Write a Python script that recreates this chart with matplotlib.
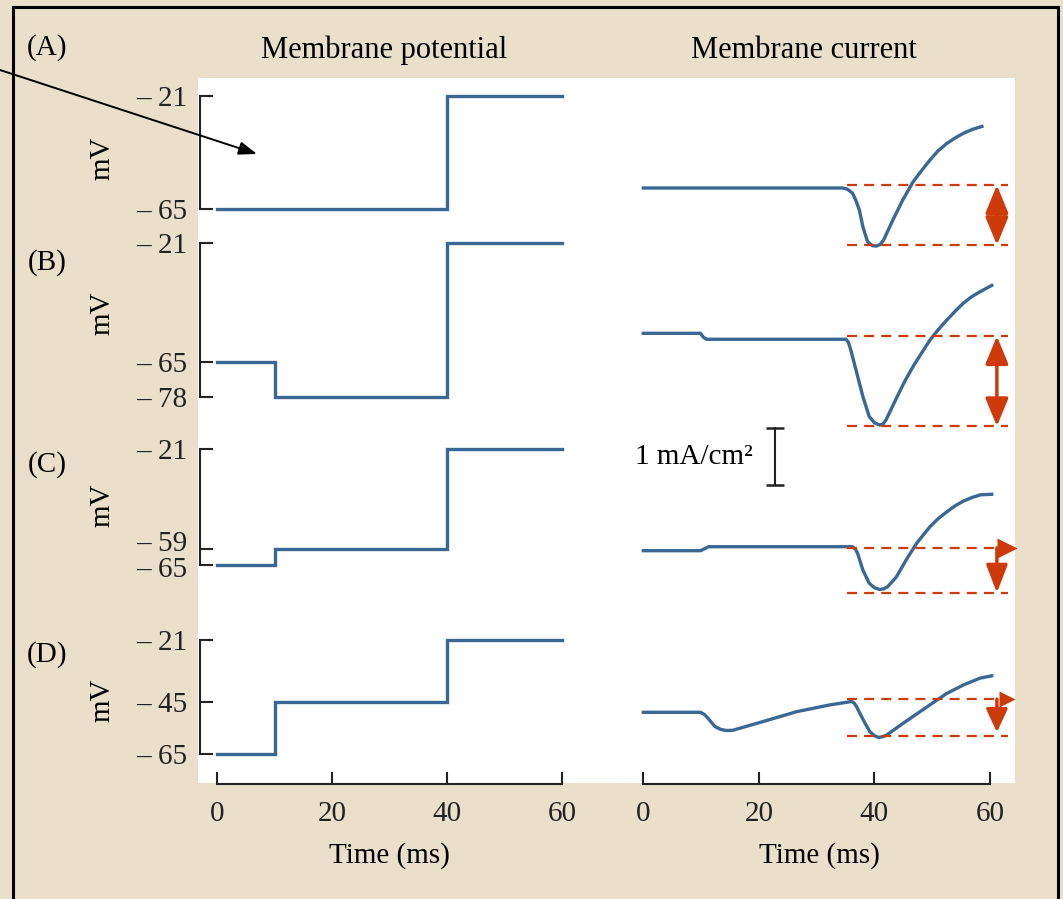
import matplotlib
matplotlib.use('Agg')
import matplotlib.pyplot as plt
from matplotlib.patches import Rectangle, FancyArrowPatch
from matplotlib.lines import Line2D

# voltage-clamp command steps (ms, mV)
time_v = [0, 10, 10, 40, 40, 60]
volt_A = [-65, -65, -65, -65, -21, -21]
volt_B = [-65, -65, -78, -78, -21, -21]
volt_C = [-65, -65, -59, -59, -21, -21]
volt_D = [-65, -65, -45, -45, -21, -21]
ticks_A = [-21, -65]
ticks_B = [-21, -65, -78]
ticks_C = [-21, -59, -65]
ticks_D = [-21, -45, -65]

# membrane currents (ms, mA/cm2, relative to holding current)
t_A = [0, 34.5, 35.3, 36.2, 36.8, 37.4, 38.0, 38.8, 39.6, 40.3, 41.0, 41.6, 43.2, 44.9, 46.7,
       48.2, 49.6, 51.0, 52.5, 54.0, 55.4, 57.0, 58.6]
i_A = [0, 0, -0.02, -0.09, -0.22, -0.39, -0.68, -0.94, -1.01, -1.02, -0.99, -0.91, -0.56, -0.21, 0.11,
       0.31, 0.49, 0.65, 0.78, 0.88, 0.96, 1.03, 1.08]
t_B = [0, 9.9, 10.4, 11.0, 35.1, 35.5, 35.9, 36.8, 38.0, 39.1, 40.0, 40.9, 41.5, 42.0, 43.8, 45.2,
       46.7, 48.2, 49.6, 51.0, 52.5, 54.0, 55.4, 56.8, 58.3, 60.3]
i_B = [0, 0, -0.07, -0.105, -0.105, -0.16, -0.29, -0.64, -1.11, -1.46, -1.57, -1.61, -1.59, -1.52, -1.14, -0.85,
       -0.58, -0.34, -0.12, 0.06, 0.23, 0.39, 0.53, 0.64, 0.73, 0.84]
t_C = [0, 9.9, 11.3, 36.2, 36.7, 37.1, 38.0, 39.1, 40.0, 40.9, 41.6, 42.3, 43.8, 45.5, 47.3, 49.6,
       51.0, 52.5, 54.0, 55.4, 56.8, 58.3, 60.3]
i_C = [0, 0, 0.07, 0.07, 0.03, -0.05, -0.34, -0.57, -0.65, -0.68, -0.67, -0.63, -0.46, -0.16, 0.13, 0.42,
       0.56, 0.68, 0.79, 0.87, 0.93, 0.98, 0.99]
t_D = [0, 9.9, 10.6, 11.2, 12.4, 13.4, 14.4, 15.5, 16.7, 20.8, 26.5, 32.3, 36.1, 36.5, 36.9, 38.1, 39.2,
       40.0, 40.7, 41.4, 42.1, 45.0, 49.6, 52.5, 55.4, 58.3, 60.3]
i_D = [0, 0, -0.04, -0.105, -0.25, -0.30, -0.32, -0.315, -0.28, -0.16, 0.01, 0.13, 0.19, 0.16, 0.10, -0.14, -0.34,
       -0.41, -0.44, -0.43, -0.40, -0.19, 0.13, 0.33, 0.48, 0.60, 0.64]

# dashed reference levels (mA/cm2)
peak_top = [0.05, -0.05, 0.05, 0.23]
peak_bottom = [-1.0, -1.63, -0.74, -0.42]

row_names = ['(A)', '(B)', '(C)', '(D)']
time_ticks = [0, 20, 40, 60]

beige = '#E9DFCA'
blue = '#3A6794'
red = '#CF3A0A'
ink = '#222222'

plt.rcParams['font.family'] = ['Liberation Serif', 'DejaVu Serif']
plt.rcParams['font.size'] = 21

W, H = 1063, 899
fig = plt.figure(figsize=(W / 100, H / 100), dpi=100, facecolor=beige)


def box(x0, y0, x1, y1):
    return [x0 / W, 1 - y1 / H, (x1 - x0) / W, (y1 - y0) / H]


def ftxt(x, y, s, **kw):
    fig.text(x / W, 1 - y / H, s, **kw)


fig.add_artist(Rectangle((198 / W, 1 - 783 / H), (1015 - 198) / W, (783 - 78) / H,
                         transform=fig.transFigure, facecolor='white', edgecolor='none', zorder=-5))

# left column: voltage steps
volts = [volt_A, volt_B, volt_C, volt_D]
vticks = [ticks_A, ticks_B, ticks_C, ticks_D]
left_px = [(96, 209), (243, 397), (449, 565), (640, 754)]
for k, (v, tk, (y0, y1)) in enumerate(zip(volts, vticks, left_px)):
    ax = fig.add_axes(box(200, y0, 565, y1))
    ax.set_facecolor('none')
    ax.plot(time_v, v, color=blue, lw=2.4, clip_on=False, solid_joinstyle='miter')
    ax.set_xlim((200 - 217) / 5.75, (565 - 217) / 5.75)
    ax.set_ylim(min(tk), max(tk))
    for s in ['top', 'right', 'bottom']:
        ax.spines[s].set_visible(False)
    ax.spines['left'].set_linewidth(1.5)
    ax.spines['left'].set_color(ink)
    ax.set_xticks([])
    labels = ['– %d' % abs(t) for t in tk]
    if k == 2:
        # the two close ticks get their labels placed by hand
        ax.set_yticks(tk, labels=[labels[0], '', ''])
        mid = (tk[1] + tk[2]) / 2
        tr = ax.get_yaxis_transform()
        ax.text(-0.035, mid, labels[1], transform=tr, ha='right', va='bottom', color=ink)
        ax.text(-0.035, mid, labels[2], transform=tr, ha='right', va='top', color=ink)
    else:
        ax.set_yticks(tk, labels=labels)
    ax.tick_params(axis='y', direction='in', length=9, width=1.5, pad=9, colors=ink)

# right column: membrane currents
t_all = [t_A, t_B, t_C, t_D]
i_all = [i_A, i_B, i_C, i_D]
base_px = [188, 333.3, 550.7, 712.3]
scale = 57.0  # px per mA/cm2
t_arrow = (997 - 643.3) / 5.78
t_flag = (1007 - 643.3) / 5.78
right_axes = []
for k, (t, cur, b) in enumerate(zip(t_all, i_all, base_px)):
    ax = fig.add_axes(box(643.3, b - 80, 990, b + 80))
    ax.set_facecolor('none')
    ax.set_xlim(0, 60)
    ax.set_ylim(-80 / scale, 80 / scale)
    ax.axis('off')
    ax.plot(t, cur, color=blue, lw=2.4, clip_on=False)
    for lvl in (peak_top[k], peak_bottom[k]):
        ax.plot([35.2, 63.1], [lvl, lvl], color=red, lw=1.6, dashes=(4.5, 3.2), clip_on=False)
    if k < 2:
        ax.annotate('', xy=(t_arrow, peak_bottom[k]), xytext=(t_arrow, peak_top[k]),
                    arrowprops=dict(arrowstyle='<|-|>,head_length=1.7,head_width=0.7',
                                    mutation_scale=10, color=red, lw=2.5,
                                    shrinkA=0, shrinkB=0), annotation_clip=False)
    else:
        hl = 1.7 if k == 2 else 1.4
        ax.annotate('', xy=(t_arrow, peak_bottom[k] + (0 if k == 2 else 0.07)), xytext=(t_arrow, peak_top[k]),
                    arrowprops=dict(arrowstyle='-|>,head_length=%g,head_width=0.65' % hl,
                                    mutation_scale=10, color=red, lw=2.5,
                                    shrinkA=0, shrinkB=0), annotation_clip=False)
        ax.plot(t_flag, peak_top[k], marker='>', ms=15 if k == 2 else 12, color=red,
                mec='none', clip_on=False)
    right_axes.append(ax)

# scale bar 1 mA/cm2
axc = right_axes[2]
axc.plot([22.8, 22.8], [1.15, 2.15], color=ink, lw=1.5, clip_on=False)
axc.plot([22.8, 22.8], [1.15, 2.15], ls='none', marker='_', ms=13, mew=1.8, color=ink, clip_on=False)
ftxt(753, 457, '1 mA/cm²', ha='right', va='center')

# time axes
for x0, x1, xc in [(217, 562, 389), (643.3, 990, 819)]:
    ax = fig.add_axes(box(x0, 760, x1, 784))
    ax.set_facecolor('none')
    ax.set_xlim(0, 60)
    ax.set_yticks([])
    for s in ['top', 'right', 'left']:
        ax.spines[s].set_visible(False)
    ax.spines['bottom'].set_linewidth(1.5)
    ax.spines['bottom'].set_color(ink)
    ax.set_xticks(time_ticks)
    ax.tick_params(axis='x', direction='in', length=9, width=1.5, pad=12, colors=ink)
    ftxt(xc, 856, 'Time (ms)', ha='center', va='center')

# labels
ftxt(384, 50, 'Membrane potential', ha='center', va='center', fontsize=22)
ftxt(804, 50, 'Membrane current', ha='center', va='center', fontsize=22)
for name, y in zip(row_names, [48, 263, 465, 655]):
    ftxt(47, y, name, ha='center', va='center')
for y in [158, 313, 505, 700]:
    ftxt(102, y, 'mV', ha='center', va='center', rotation=90)

# pointer arrow and frame
fig.add_artist(FancyArrowPatch((0, 1 - 70 / H), (257 / W, 1 - 154 / H),
               transform=fig.transFigure, arrowstyle='-|>,head_length=1.1,head_width=0.4',
               mutation_scale=10, color='black', lw=1.4, shrinkA=0, shrinkB=0))
for xs, ys in [([13, 13], [7, H]), ([13, 1058], [7, 7]), ([1058, 1058], [7, H])]:
    fig.add_artist(Line2D([x / W for x in xs], [1 - y / H for y in ys],
                          transform=fig.transFigure, color='black', lw=2.2))

fig.savefig('out.png', dpi=100, facecolor=beige)
